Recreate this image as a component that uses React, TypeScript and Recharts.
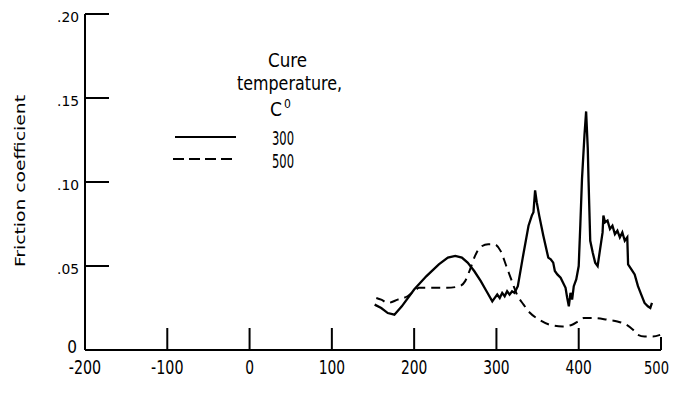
import React from 'react';
import { LineChart, Line, XAxis, YAxis } from 'recharts';

const xTicks = [-200, -100, 0, 100, 200, 300, 400, 500];
const yTicks = [0, 0.05, 0.1, 0.15, 0.2];
const yTickLabels = ['0', '.05', '.10', '.15', '.20'];

const cure300X = [152,160,168,176,185,200,215,230,241,250,258,265,273,281,288,295,298,301,304,307,310,313,316,319,322,326,332,339,343,345,347,349,352,357,363,366,369,371,374,378,381,384,386,388,390,392,394,397,400,402,404,407,409,411,412,414,417,420,423,426,429,430,432,435,438,441,444,447,450,453,456,459,460,464,468,472,476,480,484,487,489];
const cure300Y = [0.027,0.025,0.022,0.021,0.026,0.036,0.044,0.051,0.055,0.056,0.055,0.052,0.047,0.041,0.035,0.029,0.031,0.033,0.031,0.034,0.032,0.035,0.033,0.035,0.034,0.038,0.055,0.074,0.08,0.082,0.095,0.088,0.08,0.068,0.055,0.054,0.052,0.047,0.045,0.043,0.04,0.037,0.031,0.026,0.034,0.03,0.038,0.042,0.05,0.075,0.102,0.128,0.142,0.12,0.1,0.065,0.058,0.052,0.05,0.06,0.07,0.08,0.076,0.077,0.072,0.074,0.069,0.071,0.067,0.07,0.065,0.067,0.051,0.048,0.045,0.038,0.033,0.028,0.026,0.025,0.028];

const cure500X = [154,160,168,180,192,200,206,220,240,255,262,268,274,280,290,297,305,312,318,325,333,341,352,365,380,392,399,406,420,435,447,458,466,472,480,490,499];
const cure500Y = [0.031,0.03,0.028,0.03,0.032,0.035,0.037,0.037,0.037,0.038,0.041,0.048,0.056,0.061,0.063,0.063,0.059,0.05,0.042,0.033,0.027,0.022,0.018,0.015,0.014,0.015,0.017,0.019,0.019,0.018,0.017,0.015,0.012,0.009,0.008,0.008,0.009];

const legendTitle = ['Cure', 'temperature,'];
const legendLabels = ['300', '500'];
const yAxisTitle = 'Friction coefficient';

const data300 = cure300X.map((x, i) => ({ x, y: cure300Y[i] }));
const data500 = cure500X.map((x, i) => ({ x, y: cure500Y[i] }));

const FONT = '"Liberation Sans Narrow", "DejaVu Sans Condensed", "Liberation Sans", sans-serif';

const textWidth = (s: string, digit: number, minus: number, dot: number) =>
  s.split('').reduce((w, c) => w + (c === '-' ? minus : c === '.' ? dot : digit), 0);

const YTick = (props: any) => {
  const { x, y, payload } = props;
  const axisX = x + 6;
  const idx = yTicks.indexOf(payload.value);
  const label = yTickLabels[idx];
  const isZero = payload.value === 0;
  return (
    <g>
      {!isZero && (
        <line x1={axisX} x2={axisX + 24} y1={y} y2={y} stroke="#000" strokeWidth={2} />
      )}
      <text
        x={isZero ? x - 2 : x}
        y={isZero ? y + 3 : y + 8}
        textAnchor="end"
        fontSize={isZero ? 17 : 14}
        fontFamily={FONT}
        fill="#000"
        textLength={isZero ? undefined : 22}
        lengthAdjust="spacingAndGlyphs"
      >
        {label}
      </text>
    </g>
  );
};

const XTick = (props: any) => {
  const { x, y, payload } = props;
  const axisY = y - 4;
  const v = payload.value;
  const len = v === 500 ? 13 : 22;
  const s = String(v);
  const last = v === 500;
  return (
    <g>
      {v !== -200 && (
        <line x1={x} x2={x} y1={axisY} y2={axisY - len} stroke="#000" strokeWidth={2} />
      )}
      <text
        x={last ? x + 8 : x}
        y={axisY + 24}
        textAnchor={last ? 'end' : 'middle'}
        fontSize={last ? 18 : 20}
        fontFamily={FONT}
        fill="#000"
        textLength={last ? 25 : textWidth(s, 8.8, 6, 3)}
        lengthAdjust="spacingAndGlyphs"
      >
        {s}
      </text>
    </g>
  );
};

export default function App() {
  return (
    <div style={{ position: 'absolute', left: 0, top: 0, width: 674, height: 415, background: '#fff' }}>
      <LineChart width={674} height={415} margin={{ top: 14, right: 13, bottom: 35, left: 25 }}>
        <XAxis
          type="number"
          dataKey="x"
          domain={[-200, 500]}
          ticks={xTicks}
          allowDataOverflow
          tickLine={false}
          tickSize={0}
          tickMargin={4}
          tick={<XTick />}
          height={30}
          axisLine={{ stroke: '#000', strokeWidth: 2 }}
        />
        <YAxis
          type="number"
          dataKey="y"
          domain={[0, 0.2]}
          ticks={yTicks}
          tickLine={false}
          tickSize={0}
          tickMargin={6}
          tick={<YTick />}
          width={60}
          axisLine={{ stroke: '#000', strokeWidth: 2 }}
        />
        <Line data={data300} dataKey="y" type="linear" stroke="#000" strokeWidth={2.3} dot={false} isAnimationActive={false} />
        <Line data={data500} dataKey="y" type="monotone" stroke="#000" strokeWidth={2} strokeDasharray="9 6" dot={false} isAnimationActive={false} />
      </LineChart>
      <svg width={674} height={415} style={{ position: 'absolute', left: 0, top: 0, pointerEvents: 'none' }}>
        <text x={25} y={181} transform="rotate(-90 25 181)" textAnchor="middle" fontSize={14} fontFamily={FONT} fill="#000" textLength={172} lengthAdjust="spacingAndGlyphs">
          {yAxisTitle}
        </text>
        <text x={268} y={67} fontSize={20} fontFamily={FONT} fill="#000" textLength={39} lengthAdjust="spacingAndGlyphs">{legendTitle[0]}</text>
        <text x={237} y={90} fontSize={20} fontFamily={FONT} fill="#000" textLength={105} lengthAdjust="spacingAndGlyphs">{legendTitle[1]}</text>
        <text x={270} y={116} fontSize={19} fontFamily={FONT} fill="#000">C</text>
        <text x={284} y={108} fontSize={12} fontFamily={FONT} fill="#000">0</text>
        <line x1={175} x2={236} y1={137} y2={137} stroke="#000" strokeWidth={2} />
        <line x1={173} x2={234} y1={159} y2={159} stroke="#000" strokeWidth={2} strokeDasharray="11 5" />
        <text x={272} y={145} fontSize={20} fontFamily={FONT} fill="#000" textLength={22} lengthAdjust="spacingAndGlyphs">{legendLabels[0]}</text>
        <text x={272} y={168} fontSize={20} fontFamily={FONT} fill="#000" textLength={22} lengthAdjust="spacingAndGlyphs">{legendLabels[1]}</text>
      </svg>
    </div>
  );
}
